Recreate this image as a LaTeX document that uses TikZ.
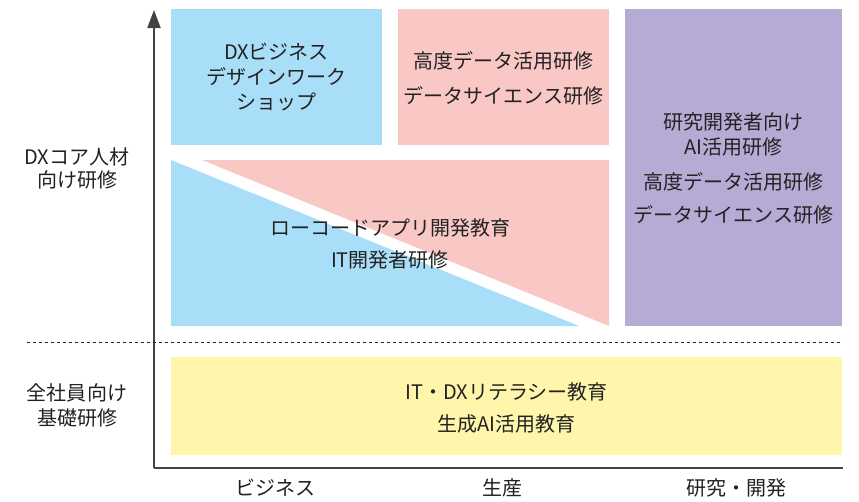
\documentclass[tikz,border=0pt]{standalone}
\usepackage{fontspec}
\setmainfont{Noto Sans CJK JP}
\usepackage{xcolor}
\usetikzlibrary{positioning,arrows.meta}
\definecolor{skyblue}{HTML}{A9DEF9}
\definecolor{salmon}{HTML}{F9C8C5}
\definecolor{lavender}{HTML}{B6ABD5}
\definecolor{cream}{HTML}{FFF5AB}
\definecolor{ink}{HTML}{222222}

\begin{document}
\begin{tikzpicture}[
    x=1pt, y=-1pt,
    txt/.style={text=ink, align=center, inner sep=0pt, font=\fontsize{20}{25}\selectfont},
    area/.style={txt},
    axis/.style={line width=2pt, draw=ink!85}
]
\useasboundingbox (0,0) rectangle (859,501);

% Boxes
\fill[skyblue] (171,9) rectangle (382,145);
\fill[salmon] (398,9) rectangle (609,145);
\fill[lavender] (625,9) rectangle (842,326);
\fill[skyblue] (171,160) -- (171,326) -- (579,326) -- cycle;
\fill[salmon] (202,160) -- (609,160) -- (609,326) -- cycle;
\fill[cream] (171,357) rectangle (842,455);

% Texts
\node[area] (dxbiz) at (276.5,77.5) {DXビジネス\\デザインワーク\\ショップ};
\node[area] (dsbiz) at (503.5,78.5) {高度データ活用研修\\[10pt]データサイエンス研修};
\node[area] (rnd) at (733.5,168.5) {研究開発者向け\\AI活用研修\\[10pt]高度データ活用研修\\[8pt]データサイエンス研修};
\node[area] (lowcode) at (390,244) {ローコードアプリ開発教育\\[7pt]IT開発者研修};
\node[area] (literacy) at (506.5,408) {IT・DXリテラシー教育\\[7pt]生成AI活用教育};

% Row labels
\node[area, font=\fontsize{20}{23}\selectfont] (core) at (77,168.5) {DXコア人材\\向け研修};
\node[area] (base) at (77,405.5) {全社員向け\\基礎研修};

% Column labels
\node[area] (colbiz) at (275.5,488) {ビジネス};
\node[area] (colprod) at (502,488) {生産};
\node[area] (colrnd) at (736,488) {研究・開発};

% Axes
\coordinate (origin) at (154,468);
\coordinate (ytop) at (154,10);
\coordinate (xend) at (843,468);
\draw[axis, -{Triangle[width=13pt,length=18pt]}] (origin) -- (ytop);
\draw[axis] (origin) -- (xend);

% Divider
\coordinate (dl) at (27,342);
\coordinate (dr) at (843,342);
\draw[ink, line width=1pt, dash pattern=on 3pt off 3pt] (dl) -- (dr);
\end{tikzpicture}
\end{document}
